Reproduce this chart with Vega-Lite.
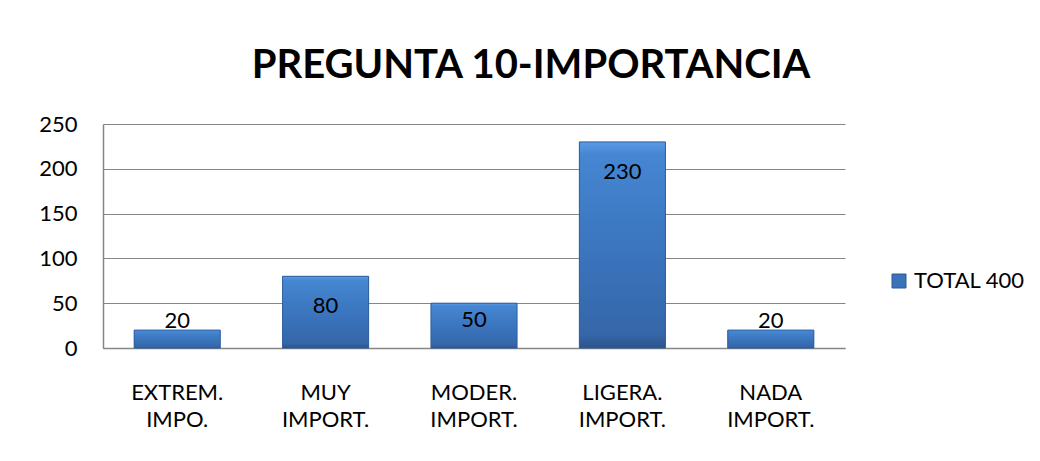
{
  "$schema": "https://vega.github.io/schema/vega-lite/v6.json",
  "autosize": {"type": "none"},
  "width": 742,
  "height": 224,
  "padding": {"left": 103, "top": 124, "right": 195, "bottom": 113},
  "background": "white",
  "config": {
    "font": "Lato",
    "view": {"stroke": null},
    "axis": {"labelFont": "Lato", "labelFontSize": 22, "labelColor": "#000000", "domainColor": "#868686", "gridColor": "#868686", "ticks": false}
  },
  "title": {
    "text": "PREGUNTA 10-IMPORTANCIA",
    "font": "Lato",
    "fontSize": 40,
    "fontWeight": "bold",
    "color": "#000000",
    "anchor": "middle",
    "frame": "group",
    "dx": 57,
    "offset": 27
  },
  "data": {
    "values": [
      {"categoria": "EXTREM. IMPO.", "valor": 20, "serie": "TOTAL 400"},
      {"categoria": "MUY IMPORT.", "valor": 80, "serie": "TOTAL 400"},
      {"categoria": "MODER. IMPORT.", "valor": 50, "serie": "TOTAL 400"},
      {"categoria": "LIGERA. IMPORT.", "valor": 230, "serie": "TOTAL 400"},
      {"categoria": "NADA IMPORT.", "valor": 20, "serie": "TOTAL 400"}
    ]
  },
  "encoding": {
    "x": {
      "field": "categoria", "type": "nominal", "sort": null,
      "scale": {"paddingInner": 0.42, "paddingOuter": 0.21},
      "axis": {"title": null, "labelAngle": 0, "labelPadding": 34, "labelExpr": "split(datum.value, ' ')", "labelLineHeight": 27, "domainColor": "#868686", "domainWidth": 1.5}
    },
    "y": {
      "field": "valor", "type": "quantitative",
      "scale": {"domain": [0, 250], "nice": false},
      "axis": {"title": null, "values": [0, 50, 100, 150, 200, 250], "labelPadding": 26, "grid": true, "gridWidth": 1, "domainWidth": 1.5}
    }
  },
  "layer": [
    {
      "mark": {"type": "bar"},
      "encoding": {
        "color": {
          "field": "serie", "type": "nominal",
          "scale": {"range": ["#3A73BA"]},
          "legend": {
            "title": null, "orient": "none", "legendX": 785, "legendY": 146,
            "padding": 0, "symbolType": "square", "symbolSize": 196,
            "symbolStrokeColor": "#2C5A96", "symbolStrokeWidth": 1,
            "labelFont": "Lato", "labelFontSize": 22, "labelColor": "#000000", "labelOffset": 4
          }
        }
      }
    },
    {
      "mark": {
        "type": "bar",
        "stroke": "#2E5E9C",
        "strokeWidth": 1,
        "fill": {
          "gradient": "linear", "x1": 0, "y1": 0, "x2": 0, "y2": 1,
          "stops": [
            {"offset": 0, "color": "#5A9BE6"},
            {"offset": 0.06, "color": "#4686D2"},
            {"offset": 0.5, "color": "#3B76BF"},
            {"offset": 0.94, "color": "#3566A8"},
            {"offset": 1, "color": "#2A5389"}
          ]
        }
      }
    },
    {
      "transform": [{"filter": "datum.valor >= 80"}],
      "mark": {"type": "text", "fontSize": 22, "font": "Lato", "color": "#000000", "baseline": "middle", "dy": 30},
      "encoding": {"text": {"field": "valor", "type": "quantitative"}}
    },
    {
      "transform": [{"filter": "datum.valor == 50"}],
      "mark": {"type": "text", "fontSize": 22, "font": "Lato", "color": "#000000", "baseline": "middle", "dy": 17},
      "encoding": {"text": {"field": "valor", "type": "quantitative"}}
    },
    {
      "transform": [{"filter": "datum.valor == 20"}],
      "mark": {"type": "text", "fontSize": 22, "font": "Lato", "color": "#000000", "baseline": "middle", "dy": -9},
      "encoding": {"text": {"field": "valor", "type": "quantitative"}}
    }
  ]
}
